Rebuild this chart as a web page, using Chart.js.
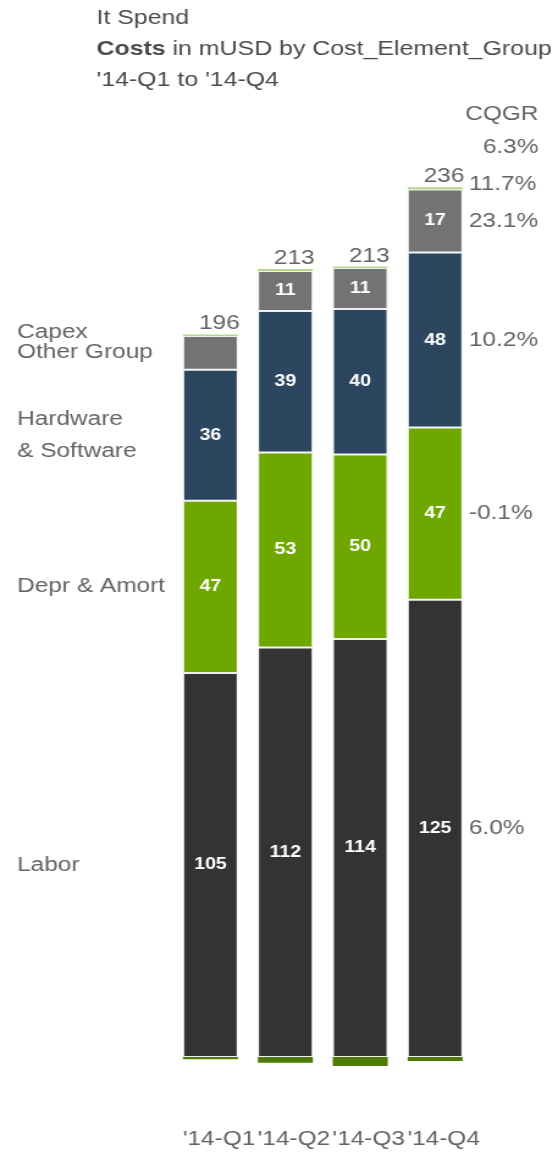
<!DOCTYPE html>
<html>
<head>
<meta charset="utf-8">
<script src="https://cdn.jsdelivr.net/npm/chart.js@4/dist/chart.umd.min.js"></script>
<style>
  body { margin: 0; background: #fff; }
  #costChart { display: block; }
</style>
</head>
<body>
<!-- drawn narrow and widened by css, the report uses a stretched look -->
<canvas id="costChart" width="457" height="1155" style="width:558px;height:1155px"></canvas>
<script>
const quarters = ["'14-Q1", "'14-Q2", "'14-Q3", "'14-Q4"];
const labor = [104.6, 111.6, 113.9, 124.6];
const deprAmort = [47.0, 53.1, 50.3, 46.9];
const hardwareSoftware = [35.65, 38.6, 39.6, 47.7];
const otherGroup = [9.22, 10.9, 11.2, 17.2];
const capex = [0.43, 0.5, 0.4, 0.6];
const adjustments = [-0.6, -1.6, -2.5, -1.1];

const FONT = '"Liberation Sans", Arial, sans-serif';
const GREY = '#636363';

// growth per quarter between first and last quarter
function cqgr(values) {
    const n = values.length - 1;
    return Math.pow(values[n] / values[0], 1 / n) - 1;
}

function pct(v) {
    return (v * 100).toFixed(1) + '%';
}

const annotations = {
    id: 'annotations',
    afterDatasetsDraw(chart) {
        const ctx = chart.ctx;
        const datasets = chart.data.datasets;
        ctx.save();

        // title
        ctx.fillStyle = '#4a4a4a';
        ctx.textAlign = 'left';
        ctx.textBaseline = 'alphabetic';
        ctx.font = '20.4px ' + FONT;
        ctx.fillText('It Spend', 79, 24);
        ctx.font = 'bold 20.4px ' + FONT;
        ctx.fillText('Costs', 79, 55);
        const boldW = ctx.measureText('Costs').width;
        ctx.font = '20.4px ' + FONT;
        ctx.fillText(' in mUSD by Cost_Element_Group', 79 + boldW, 55);
        ctx.fillText(quarters[0] + ' to ' + quarters[quarters.length - 1], 79, 86);

        // values inside the segments
        ctx.font = 'bold 16px ' + FONT;
        ctx.fillStyle = '#fff';
        ctx.textAlign = 'center';
        ctx.textBaseline = 'middle';
        datasets.forEach((ds, i) => {
            if (!ds.showValues) return;
            chart.getDatasetMeta(i).data.forEach((bar, j) => {
                if (Math.abs(bar.base - bar.y) < 36) return;
                ctx.fillText(Math.round(ds.data[j]), bar.x, (bar.y + bar.base) / 2);
            });
        });

        // totals above each bar
        const totals = quarters.map((q, j) => datasets.reduce((s, ds) => s + ds.data[j], 0));
        const tops = quarters.map((q, j) => {
            let top = Infinity;
            datasets.forEach((ds, i) => {
                if (ds.data[j] > 0) top = Math.min(top, chart.getDatasetMeta(i).data[j].y);
            });
            return top;
        });
        ctx.font = '20px ' + FONT;
        ctx.fillStyle = GREY;
        ctx.textAlign = 'right';
        ctx.textBaseline = 'alphabetic';
        quarters.forEach((q, j) => {
            const bar = chart.getDatasetMeta(0).data[j];
            ctx.fillText(Math.round(totals[j]), bar.x + bar.width / 2 + 1.5, tops[j] - 5);
        });

        // series names on the left, next to the first bar
        const named = datasets.map((ds, i) => ({ds, i})).filter(d => d.ds.label);
        const left = named.map(d => {
            const bar = chart.getDatasetMeta(d.i).data[0];
            const lines = d.ds.nameLines || [d.ds.label];
            return {lines, y: (bar.y + bar.base) / 2, half: 10 + (lines.length - 1) * 16};
        });
        for (let k = 1; k < left.length; k++) {
            const prev = left[k - 1];
            left[k].y = Math.min(left[k].y, prev.y - prev.half - left[k].half);
        }
        ctx.textAlign = 'left';
        ctx.textBaseline = 'middle';
        left.forEach(l => {
            const y0 = l.y - (l.lines.length - 1) * 16;
            l.lines.forEach((t, n) => ctx.fillText(t, 14, y0 + n * 32));
        });

        // growth column on the right, next to the last bar
        const last = quarters.length - 1;
        const right = named.map(d => {
            const bar = chart.getDatasetMeta(d.i).data[last];
            return {text: pct(cqgr(d.ds.data)), y: (bar.y + bar.base) / 2, align: 'left'};
        });
        right.push({text: pct(cqgr(totals)), y: tops[last] - 12, align: 'right'});
        for (let k = 1; k < right.length; k++) {
            right[k].y = Math.min(right[k].y, right[k - 1].y - 37);
        }
        right.forEach(r => {
            ctx.textAlign = r.align;
            ctx.fillText(r.text, r.align === 'left' ? 384 : 441, r.y);
        });
        ctx.textAlign = 'right';
        ctx.fillText('CQGR', 441, right[right.length - 1].y - 33);

        ctx.restore();
    }
};

const chart = new Chart(document.getElementById('costChart'), {
    type: 'bar',
    data: {
        labels: quarters,
        datasets: [
            {label: 'Labor', data: labor, backgroundColor: '#333333', showValues: true},
            {label: 'Depr & Amort', data: deprAmort, backgroundColor: '#6da700', showValues: true},
            {label: 'Hardware & Software', nameLines: ['Hardware', '& Software'], data: hardwareSoftware,
                backgroundColor: '#2d4660', showValues: true},
            {label: 'Other Group', data: otherGroup, backgroundColor: '#737373', showValues: true},
            {label: 'Capex', data: capex, backgroundColor: '#b5d88a', borderWidth: 0},
            {label: '', data: adjustments, backgroundColor: '#4d7a00', borderWidth: 0}
        ]
    },
    options: {
        responsive: false,
        animation: false,
        devicePixelRatio: 1,
        datasets: {
            bar: {
                barPercentage: 0.734,
                categoryPercentage: 1,
                borderWidth: 1,
                borderColor: 'rgba(235,235,235,0.8)',
                borderSkipped: false
            }
        },
        layout: {
            padding: {left: 141.7, right: 70, top: 108, bottom: 0}
        },
        scales: {
            x: {
                stacked: true,
                grid: {display: false, drawTicks: false},
                border: {display: false},
                ticks: {
                    color: GREY,
                    font: {family: FONT, size: 20},
                    padding: 4,
                    labelOffset: 7,
                    autoSkip: false,
                    maxRotation: 0,
                    minRotation: 0
                }
            },
            y: {
                stacked: true,
                display: false,
                min: -18,
                max: 258.6
            }
        },
        plugins: {
            legend: {display: false},
            tooltip: {enabled: false}
        }
    },
    plugins: [annotations]
});
</script>
</body>
</html>
